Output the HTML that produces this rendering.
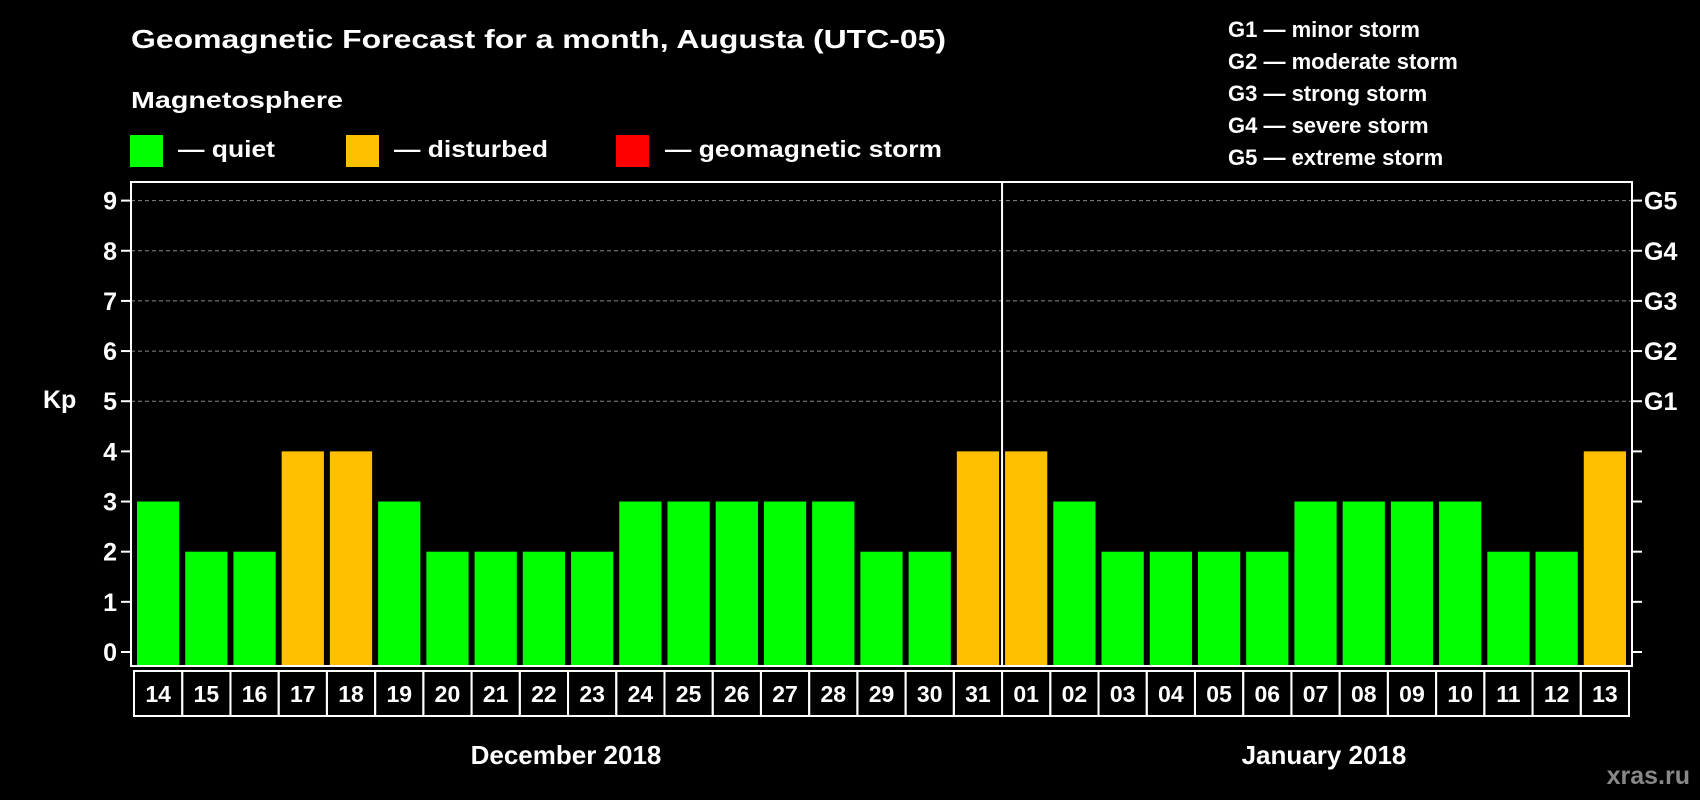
<!DOCTYPE html>
<html><head><meta charset="utf-8"><style>
html,body{margin:0;padding:0;background:#000;}
svg{display:block;font-family:"Liberation Sans",Arial,sans-serif;font-weight:bold;}
</style></head><body>
<svg id="chart" width="1700" height="800" viewBox="0 0 1700 800">
<text x="131" y="48" fill="#fff" font-size="26" textLength="815" lengthAdjust="spacingAndGlyphs">Geomagnetic Forecast for a month, Augusta (UTC-05)</text>
<text x="131" y="108" fill="#fff" font-size="23" textLength="212" lengthAdjust="spacingAndGlyphs">Magnetosphere</text>
<g>
<rect x="130" y="135" width="33" height="32" fill="#00ff00"/>
<text x="178" y="157" fill="#fff" font-size="23" textLength="97" lengthAdjust="spacingAndGlyphs">— quiet</text></g>
<g>
<rect x="346" y="135" width="33" height="32" fill="#ffc000"/>
<text x="394" y="157" fill="#fff" font-size="23" textLength="154" lengthAdjust="spacingAndGlyphs">— disturbed</text></g>
<g>
<rect x="616" y="135" width="33" height="32" fill="#ff0000"/>
<text x="665" y="157" fill="#fff" font-size="23" textLength="277" lengthAdjust="spacingAndGlyphs">— geomagnetic storm</text></g>
<g fill="#fff" font-size="22">
<text x="1228" y="37">G1 — minor storm</text>
<text x="1228" y="69">G2 — moderate storm</text>
<text x="1228" y="101">G3 — strong storm</text>
<text x="1228" y="133">G4 — severe storm</text>
<text x="1228" y="165">G5 — extreme storm</text>
</g>
<text x="43" y="408" fill="#fff" font-size="25">Kp</text>
<g id="grid"></g><g id="bars"></g><g id="axes"></g>
<text x="566" y="764" fill="#fff" font-size="26" text-anchor="middle">December 2018</text>
<text x="1324" y="764" fill="#fff" font-size="26" text-anchor="middle">January 2018</text>
<text x="1690" y="784" fill="#888" font-size="25" text-anchor="end">xras.ru</text>
</svg>
<script>
const days = ["14","15","16","17","18","19","20","21","22","23","24","25","26","27","28","29","30","31","01","02","03","04","05","06","07","08","09","10","11","12","13"];
const kpValues = [3,2,2,4,4,3,2,2,2,2,3,3,3,3,3,2,2,4,4,3,2,2,2,2,3,3,3,3,2,2,4];
const yTicks = [0,1,2,3,4,5,6,7,8,9];
const gLabels = ["G1","G2","G3","G4","G5"];
const NS="http://www.w3.org/2000/svg";
const L=131,R=1632,T=182,B=666,y0=652,y9=200.6;
const y=v=>y0-(y0-y9)*v/9;
const pitch=(R-L-6)/days.length, x=i=>L+6+i*pitch, bw=pitch-6;
function mk(tag,attrs,parent){const e=document.createElementNS(NS,tag);for(const k in attrs)e.setAttribute(k,attrs[k]);document.getElementById(parent).appendChild(e);return e;}
yTicks.forEach(v=>{
  if(v>=5){const g=mk('line',{x1:L,x2:R,y1:y(v),y2:y(v),stroke:'#888','stroke-width':1,'stroke-dasharray':'4,3'},'grid');
  
  }
  const t=mk('line',{x1:L-10,x2:L,y1:y(v),y2:y(v),stroke:'#fff','stroke-width':2},'axes');
  
  
  const t2=mk('line',{x1:R,x2:R+10,y1:y(v),y2:y(v),stroke:'#fff','stroke-width':2},'axes');
  
  
  const lb=mk('text',{x:L-14,y:y(v)+9,fill:'#fff','font-size':25,'text-anchor':'end'},'axes');
  lb.textContent=v;
  
  
});
gLabels.forEach((g,i)=>{
  const lb=mk('text',{x:R+12,y:y(5+i)+9,fill:'#fff','font-size':25},'axes');
  lb.textContent=g;
  
  
});
kpValues.forEach((v,i)=>{
  const b=mk('rect',{x:x(i),y:y(v),width:bw,height:B-y(v),fill:v>=5?'#ff0000':(v>=4?'#ffc000':'#00ff00')},'bars');
  
  
  const c=mk('rect',{x:x(i)-3,y:671,width:pitch,height:45,fill:'none',stroke:'#fff','stroke-width':2},'axes');
  
  
  const t=mk('text',{x:x(i)-3+pitch/2,y:702,fill:'#fff','font-size':23,'text-anchor':'middle'},'axes');
  t.textContent=days[i];
  
  
});
const fr=mk('rect',{x:L,y:T,width:R-L,height:B-T,fill:'none',stroke:'#fff','stroke-width':2},'axes');


const dv=mk('line',{x1:x(18)-3,x2:x(18)-3,y1:T,y2:B,stroke:'#fff','stroke-width':2},'axes');


</script>
</body></html>
